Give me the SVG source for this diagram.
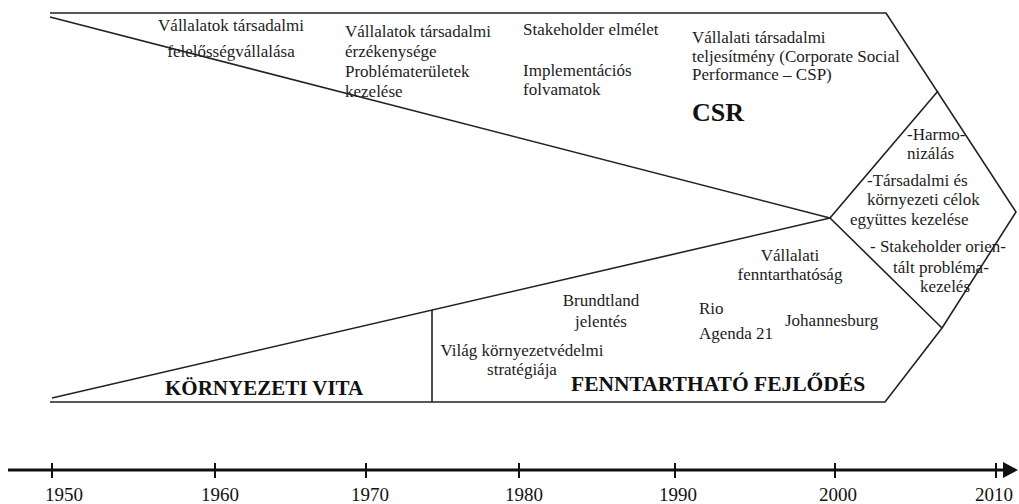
<svg xmlns="http://www.w3.org/2000/svg" width="1019" height="504" viewBox="0 0 1019 504">
<defs>
<style>
.ln{fill:none;stroke:#222;stroke-width:1.6;stroke-linejoin:miter}
.t{font-family:"Liberation Serif","Times New Roman",serif;font-size:17px;fill:#1c1c24}
.b{font-family:"Liberation Serif","Times New Roman",serif;font-weight:bold;fill:#111}
.c{text-anchor:middle}
.yr{font-family:"Liberation Serif","Times New Roman",serif;font-size:19px;fill:#111;text-anchor:middle}
.tick{stroke:#111;stroke-width:2}
</style>
</defs>
<rect width="1019" height="504" fill="#fff"/>
<g id="connectors">
<path class="ln" d="M50,13 H886 L1016,212 L942,328 L885,402 H50"/>
<path class="ln" d="M50,17 L830,218 L52,398"/>
<path class="ln" d="M938,91 L830,218 L942,328"/>
<path class="ln" d="M432,310 V402"/>
</g>
<g id="csr">
<text class="t c" x="231" y="31">Vállalatok társadalmi</text>
<text class="t c" x="231" y="57">felelősségvállalása</text>
<text class="t" x="345" y="37">Vállalatok társadalmi</text>
<text class="t" x="345" y="57">érzékenysége</text>
<text class="t" x="345" y="77">Problématerületek</text>
<text class="t" x="345" y="97">kezelése</text>
<text class="t" x="523" y="35">Stakeholder elmélet</text>
<text class="t" x="523" y="76">Implementációs</text>
<text class="t" x="523" y="95">folvamatok</text>
<text class="t" x="692" y="43">Vállalati társadalmi</text>
<text class="t" x="692" y="62">teljesítmény (Corporate Social</text>
<text class="t" x="692" y="80">Performance – CSP)</text>
<text class="b" x="692" y="121" font-size="26">CSR</text>
</g>
<g id="integration">
<text class="t" x="907" y="140">-Harmo-</text>
<text class="t" x="907" y="159">nizálás</text>
<text class="t" x="867" y="186">-Társadalmi és</text>
<text class="t" x="867" y="205">környezeti célok</text>
<text class="t" x="850" y="225">együttes kezelése</text>
<text class="t" x="870" y="252">- Stakeholder orien-</text>
<text class="t" x="893" y="273">tált  probléma-</text>
<text class="t" x="920" y="292">kezelés</text>
</g>
<g id="sustainability">
<text class="t c" x="790" y="261">Vállalati</text>
<text class="t c" x="790" y="280">fenntarthatóság</text>
<text class="t c" x="601" y="306">Brundtland</text>
<text class="t c" x="601" y="327">jelentés</text>
<text class="t" x="699" y="314">Rio</text>
<text class="t" x="699" y="339">Agenda 21</text>
<text class="t" x="785" y="326">Johannesburg</text>
<text class="t c" x="522" y="356">Világ környezetvédelmi</text>
<text class="t c" x="522" y="375">stratégiája</text>
<text class="b" x="571" y="391" font-size="21.5">FENNTARTHATÓ FEJLŐDÉS</text>
</g>
<g id="environment">
<text class="b" x="165" y="395" font-size="21">KÖRNYEZETI VITA</text>
</g>
<g id="timeline">
<line x1="8" y1="470" x2="1006" y2="470" stroke="#111" stroke-width="3"/>
<polygon points="1003,462 1018,470 1003,478" fill="#111"/>
<line class="tick" x1="52" y1="463" x2="52" y2="478"/>
<line class="tick" x1="215" y1="463" x2="215" y2="478"/>
<line class="tick" x1="366" y1="463" x2="366" y2="478"/>
<line class="tick" x1="519" y1="463" x2="519" y2="478"/>
<line class="tick" x1="675" y1="463" x2="675" y2="478"/>
<line class="tick" x1="835" y1="463" x2="835" y2="478"/>
<line class="tick" x1="996" y1="463" x2="996" y2="478"/>
<text class="yr" x="64" y="501">1950</text>
<text class="yr" x="220" y="501">1960</text>
<text class="yr" x="370" y="501">1970</text>
<text class="yr" x="524" y="501">1980</text>
<text class="yr" x="678" y="501">1990</text>
<text class="yr" x="838" y="501">2000</text>
<text class="yr" x="994" y="501">2010</text>
</g>
</svg>
